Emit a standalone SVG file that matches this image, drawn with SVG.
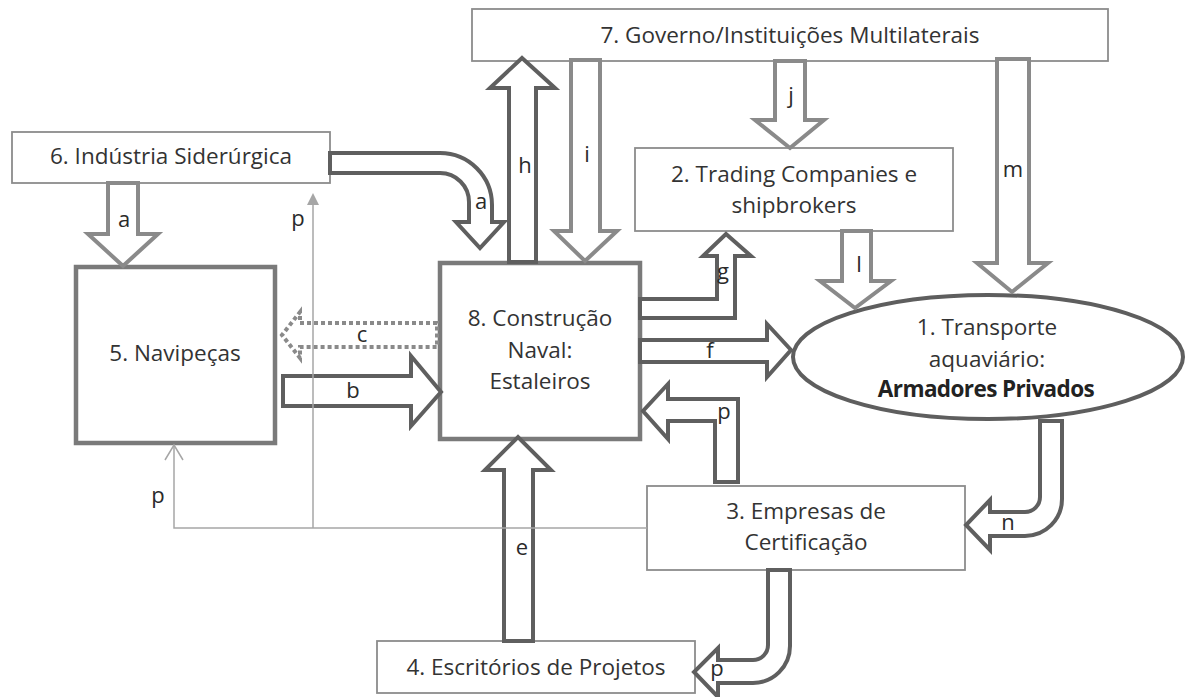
<svg xmlns="http://www.w3.org/2000/svg" width="1185" height="697" viewBox="0 0 1185 697">
<style>
.box{fill:#fff;stroke:#8c8c8c;stroke-width:1.8}
.thick{fill:#fff;stroke:#7a7a7a;stroke-width:4.5}
.ell{fill:#fff;stroke:#5e5e5e;stroke-width:4}
.dk{fill:#fff;stroke:#5f5f5f;stroke-width:4}
.lt{fill:#fff;stroke:#8a8a8a;stroke-width:4}
.dot{fill:#fff;stroke:#8a8a8a;stroke-width:4;stroke-dasharray:4 3}
.thin{fill:none;stroke:#a6a6a6;stroke-width:1.5}
text{font-family:"Open Sans","DejaVu Sans",sans-serif;font-size:22.5px;fill:#333;text-anchor:middle}
.lbl{font-size:22px;fill:#2a2a2a}
.b{font-weight:bold;fill:#222;letter-spacing:-0.6px}
</style>
<rect width="1185" height="697" fill="#fff"/>
<g id="node7"><rect class="box" x="472" y="9" width="636" height="52"/><text x="790" y="43">7. Governo/Instituições Multilaterais</text></g>
<g id="node6"><rect class="box" x="12" y="132" width="318" height="51"/><text x="171" y="164">6. Indústria Siderúrgica</text></g>
<g id="node5"><rect class="thick" x="76" y="267" width="199" height="176"/><text x="175" y="361">5. Navipeças</text></g>
<g id="node8"><rect class="thick" x="440" y="263" width="200" height="176"/><text x="540" y="326">8. Construção</text><text x="540" y="358">Naval:</text><text x="540" y="389">Estaleiros</text></g>
<g id="node2"><rect class="box" x="635" y="148" width="318" height="83"/><text x="794" y="182">2. Trading Companies e</text><text x="794" y="213">shipbrokers</text></g>
<g id="node1"><ellipse class="ell" cx="988" cy="357" rx="195" ry="62"/><text x="987" y="335">1. Transporte</text><text x="987" y="367">aquaviário:</text><text class="b" x="986" y="397">Armadores Privados</text></g>
<g id="node3"><rect class="box" x="647" y="486" width="318" height="84"/><text x="806" y="519">3. Empresas de</text><text x="806" y="550">Certificação</text></g>
<g id="node4"><rect class="box" x="377" y="641" width="318" height="52"/><text x="536" y="675">4. Escritórios de Projetos</text></g>
<g id="connectors">
<path class="lt" d="M108,183 V234 H88 L123,266 L158,234 H138 V183 Z"/>
<path class="dk" d="M330,153 H440 A52,52 0 0 1 492,205 V222 H504 L480,248 L456,222 H469 V202 A29,29 0 0 0 440,173 H330 Z"/>
<path class="dk" d="M509,262 V88 H490 L522,58 L555,88 H536 V262 Z"/>
<path class="lt" d="M571,60 V231 H554 L585,261 L617,231 H600 V60 Z"/>
<path class="lt" d="M775,61 V120 H755 L790,148 L824,120 H805 V61 Z"/>
<path class="lt" d="M997,59 V263 H977 L1012,292 L1048,263 H1029 V59 Z"/>
<path class="lt" d="M842,231 V281 H820 L855,308 L891,281 H871 V231 Z"/>
<path class="dk" d="M640,299 H717 V256 H703 L726,234 L751,256 H735 V318 H640 Z"/>
<path class="dk" d="M640,340 H767 V324 L791,350 L767,377 V362 H640 Z"/>
<path class="dk" d="M283,376 H411 V356 L441,392 L411,426 V406 H283 Z"/>
<path class="dot" d="M437,323 H300 V312 L282,335 L300,358 V347 H437 Z"/>
<path class="dk" d="M715,482 V421 H668 V439 L643,411 L668,384 V399 H738 V482 Z"/>
<path class="dk" d="M504,641 V470 H485 L518,437 L551,470 H533 V641 Z"/>
<path class="dk" d="M1040,421 V497 A15,15 0 0 1 1025,512 H990 V500 L966,525 L990,550 V536 H1025 A37,37 0 0 0 1062,499 V421 Z"/>
<path class="dk" d="M768,570 V645 A15,15 0 0 1 753,660 H718 V648 L694,672 L718,697 V683 H753 A37,37 0 0 0 790,646 V570 Z"/>
<polyline class="thin" points="647,528 174,528 174,445"/>
<polyline class="thin" points="165,460 174,445 183,460"/>
<line class="thin" x1="313" y1="528" x2="313" y2="203"/>
<polygon points="313,193 307,205 319,205" fill="#a6a6a6"/>
<text class="lbl" x="124" y="227">a</text>
<text class="lbl" x="481" y="209">a</text>
<text class="lbl" x="525" y="173">h</text>
<text class="lbl" x="587" y="162">i</text>
<text class="lbl" x="791" y="103">j</text>
<text class="lbl" x="1013" y="177">m</text>
<text class="lbl" x="859" y="272">l</text>
<text class="lbl" x="723" y="279">g</text>
<text class="lbl" x="710" y="358">f</text>
<text class="lbl" x="353" y="398">b</text>
<text class="lbl" x="362" y="342">c</text>
<text class="lbl" x="724" y="419">p</text>
<text class="lbl" x="522" y="555">e</text>
<text class="lbl" x="1008" y="530">n</text>
<text class="lbl" x="717" y="676">p</text>
<text class="lbl" x="158" y="503">p</text>
<text class="lbl" x="298" y="226">p</text>
</g>
</svg>
